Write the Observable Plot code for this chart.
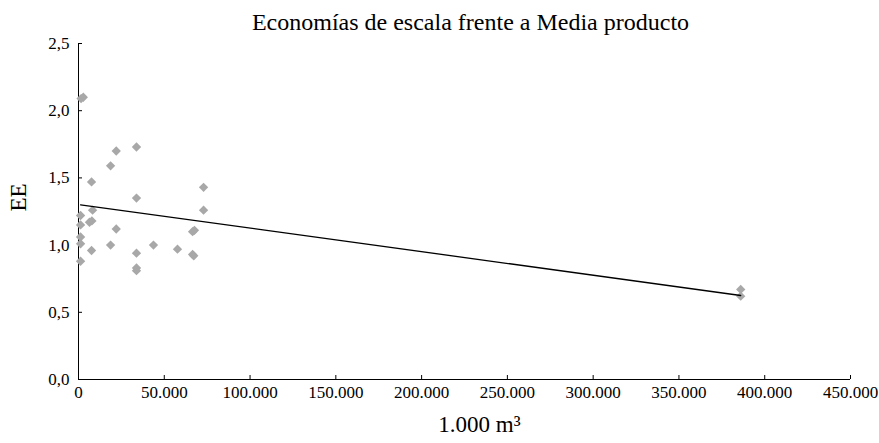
<!DOCTYPE html>
<html>
<head>
<meta charset="utf-8">
<script src="https://cdn.jsdelivr.net/npm/d3@7"></script>
<script src="https://cdn.jsdelivr.net/npm/@observablehq/plot@0.6"></script>
<style>
  html, body { margin: 0; padding: 0; background: #fff; }
  #chart svg, #chart svg text { font-family: "Liberation Serif", "Times New Roman", serif !important; }
</style>
</head>
<body>
<div id="chart"></div>
<script>
// Data (x in 1.000 m³, y = EE)
const volume = [1500, 2800, 33800, 22000, 18700, 7600, 72900, 33800, 72900, 8200,
                1200, 6400, 7800, 1200, 22000, 66500, 67600, 1200, 1200, 18700,
                43700, 7600, 57700, 33800, 66500, 67200, 1200, 33800, 33800, 386000, 386000];
const ee     = [2.09, 2.10, 1.73, 1.70, 1.59, 1.47, 1.43, 1.35, 1.26, 1.26,
                1.22, 1.17, 1.18, 1.15, 1.12, 1.10, 1.11, 1.06, 1.01, 1.00,
                1.00, 0.96, 0.97, 0.94, 0.93, 0.92, 0.88, 0.83, 0.81, 0.67, 0.62];
// Linear trend line endpoints
const trendX = [1200, 386000];
const trendY = [1.30, 0.625];
const xTicks = [0, 50000, 100000, 150000, 200000, 250000, 300000, 350000, 400000, 450000];
const yTicks = [0, 0.5, 1.0, 1.5, 2.0, 2.5];
const titleText = "Economías de escala frente a Media producto";
const xLabel = "1.000 m³";
const yLabel = "EE";

const points = volume.map((v, i) => ({x: v, y: ee[i]}));
const trend = trendX.map((v, i) => ({x: v, y: trendY[i]}));

const loc = d3.formatLocale({decimal: ",", thousands: ".", grouping: [3], currency: ["", ""]});
const fmtX = loc.format(",.0f");
const fmtY = loc.format(".1f");
const serif = "Liberation Serif";

const chart = Plot.plot({
  width: 879,
  height: 443,
  marginTop: 43,
  marginBottom: 64,
  marginLeft: 78,
  marginRight: 29,
  style: {fontFamily: serif, fontSize: "17px", color: "#000", background: "#fff"},
  x: {domain: [0, 450000]},
  y: {domain: [0, 2.5]},
  marks: [
    Plot.ruleX([0], {stroke: "#000", strokeWidth: 1}),
    Plot.ruleY([0], {stroke: "#000", strokeWidth: 1}),
    Plot.axisX({ticks: xTicks, tickFormat: fmtX, tickSize: -4, tickPadding: 10, label: null, fontSize: 17, fontFamily: serif}),
    Plot.axisY({ticks: yTicks, tickFormat: fmtY, tickSize: -4, tickPadding: 13, label: null, fontSize: 17, fontFamily: serif}),
    Plot.dot(points, {x: "x", y: "y", symbol: "diamond2", r: 4.2, fill: "#a8a8a8", stroke: "none"}),
    Plot.line(trend, {x: "x", y: "y", stroke: "#000", strokeWidth: 1.3}),
    Plot.text([titleText], {frameAnchor: "top", dy: -31, dx: 6, fontSize: 24, fontFamily: serif, fill: "#000"}),
    Plot.text([xLabel], {frameAnchor: "bottom", dy: 52, dx: 15, fontSize: 23, fontFamily: serif, fill: "#000"}),
    Plot.text([yLabel], {frameAnchor: "left", dx: -60, dy: 0, rotate: -90, fontSize: 23, fontFamily: serif, fill: "#000"})
  ]
});
document.getElementById("chart").appendChild(chart);
</script>
</body>
</html>
